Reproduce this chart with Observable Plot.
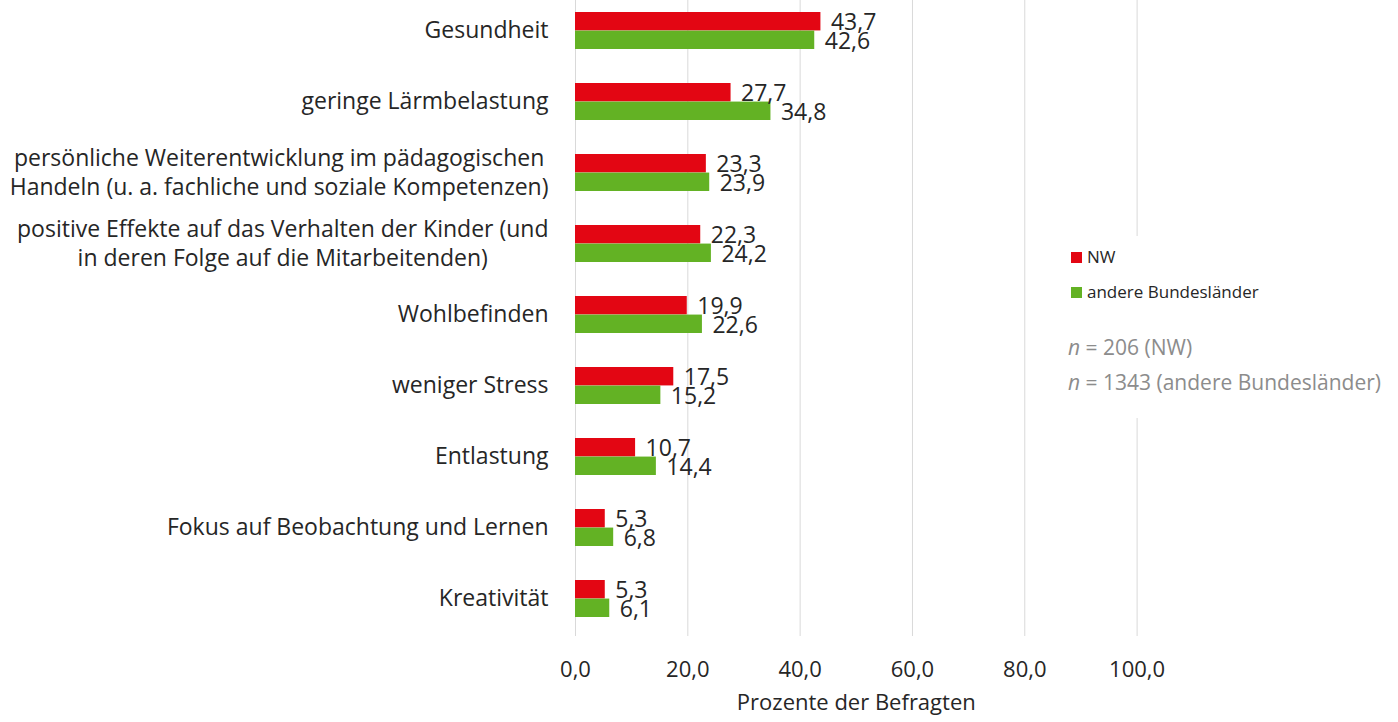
<!DOCTYPE html>
<html><head><meta charset="utf-8">
<script src="https://cdn.jsdelivr.net/npm/d3@7"></script>
<script src="https://cdn.jsdelivr.net/npm/@observablehq/plot@0.6"></script>
<style>
body{margin:0;background:#fff;}
#wrap{position:relative;width:1398px;height:722px;overflow:hidden;font-family:"Open Sans",sans-serif;background:#fff;}
#chart{position:absolute;left:0;top:-7px;}
#legend{position:absolute;left:1058px;top:236px;width:340px;height:182px;background:#fff;}
.sw{position:absolute;width:11px;height:11px;}
.lt{position:absolute;font-size:17px;color:#262626;line-height:20px;white-space:nowrap;}
.nt{position:absolute;font-size:21px;color:#8c8c8c;line-height:24px;white-space:nowrap;}
</style></head>
<body><div id="wrap"><div id="chart"></div>
<div id="legend">
  <div class="sw" style="left:13px;top:16px;background:#e30613"></div>
  <div class="lt" style="left:29px;top:11px">NW</div>
  <div class="sw" style="left:13px;top:51px;background:#63b224"></div>
  <div class="lt" style="left:29px;top:46px">andere Bundesländer</div>
  <div class="nt" style="left:10px;top:99px"><i>n</i> = 206 (NW)</div>
  <div class="nt" style="left:10px;top:134px"><i>n</i> = 1343 (andere Bundesländer)</div>
</div>
</div>
<script>
const categories = [
  "Gesundheit",
  "geringe Lärmbelastung",
  "persönliche Weiterentwicklung im pädagogischen\nHandeln (u. a. fachliche und soziale Kompetenzen)",
  "positive Effekte auf das Verhalten der Kinder (und\nin deren Folge auf die Mitarbeitenden)",
  "Wohlbefinden",
  "weniger Stress",
  "Entlastung",
  "Fokus auf Beobachtung und Lernen",
  "Kreativität"
];
const nwValues = [43.7, 27.7, 23.3, 22.3, 19.9, 17.5, 10.7, 5.3, 5.3];
const andereValues = [42.6, 34.8, 23.9, 24.2, 22.6, 15.2, 14.4, 6.8, 6.1];
const xTicks = [0, 20, 40, 60, 80, 100];
const axisTitle = "Prozente der Befragten";

const data = categories.map((c, i) => ({cat: c, nw: nwValues[i], andere: andereValues[i]}));
const fmt = v => v.toFixed(1).replace(".", ",");

const W = 1398, H = 735, mTop = 0, mBottom = 92, mLeft = 575, mRight = 261.4;
const padIn = 0.48, padOut = 0.24;
const step = (H - mTop - mBottom) / (categories.length - padIn + 2 * padOut);
const bw = step * (1 - padIn);
const RED = "#e30613", GREEN = "#63b224", TXT = "#262626";
const FONT = "'Open Sans', sans-serif";

const labelFont = 23;
const ctx = document.createElement("canvas").getContext("2d");
ctx.font = `${labelFont}px 'Open Sans'`;
const catMarks = categories.map(c => {
  const w = Math.max(...c.split("\n").map(l => ctx.measureText(l).width));
  return Plot.text([c], {y: d => d, text: d => d, frameAnchor: "left", textAnchor: "middle",
    dx: -27 - w / 2, dy: -1.5, fontSize: labelFont, lineHeight: 1.22, fill: TXT});
});

const chart = Plot.plot({
  width: W, height: H, marginTop: mTop, marginBottom: mBottom, marginLeft: mLeft, marginRight: mRight,
  style: {fontFamily: FONT, color: TXT, background: "transparent"},
  x: {domain: [0, 100]},
  y: {domain: categories, paddingInner: padIn, paddingOuter: padOut, axis: null},
  marks: [
    Plot.gridX(xTicks, {stroke: "#d9d9d9", strokeOpacity: 1, strokeWidth: 1}),
    Plot.axisX(xTicks, {tickSize: 0, tickPadding: 25, tickFormat: fmt, fontSize: 22, label: null, fill: TXT}),
    Plot.barX(data, {x: "nw", y: "cat", fill: RED, insetBottom: bw / 2}),
    Plot.barX(data, {x: "andere", y: "cat", fill: GREEN, insetTop: bw / 2}),
    Plot.text(data, {x: "nw", y: "cat", text: d => fmt(d.nw), dx: 10, dy: -bw / 4 + 1.2, textAnchor: "start", fontSize: 23, fill: TXT}),
    Plot.text(data, {x: "andere", y: "cat", text: d => fmt(d.andere), dx: 10, dy: bw / 4 + 1.2, textAnchor: "start", fontSize: 23, fill: TXT}),
    ...catMarks,
    Plot.text([axisTitle], {frameAnchor: "bottom", text: d => d, dy: 73, fontSize: 22, fill: TXT})
  ]
});
document.getElementById("chart").appendChild(chart);
</script>
</body></html>
